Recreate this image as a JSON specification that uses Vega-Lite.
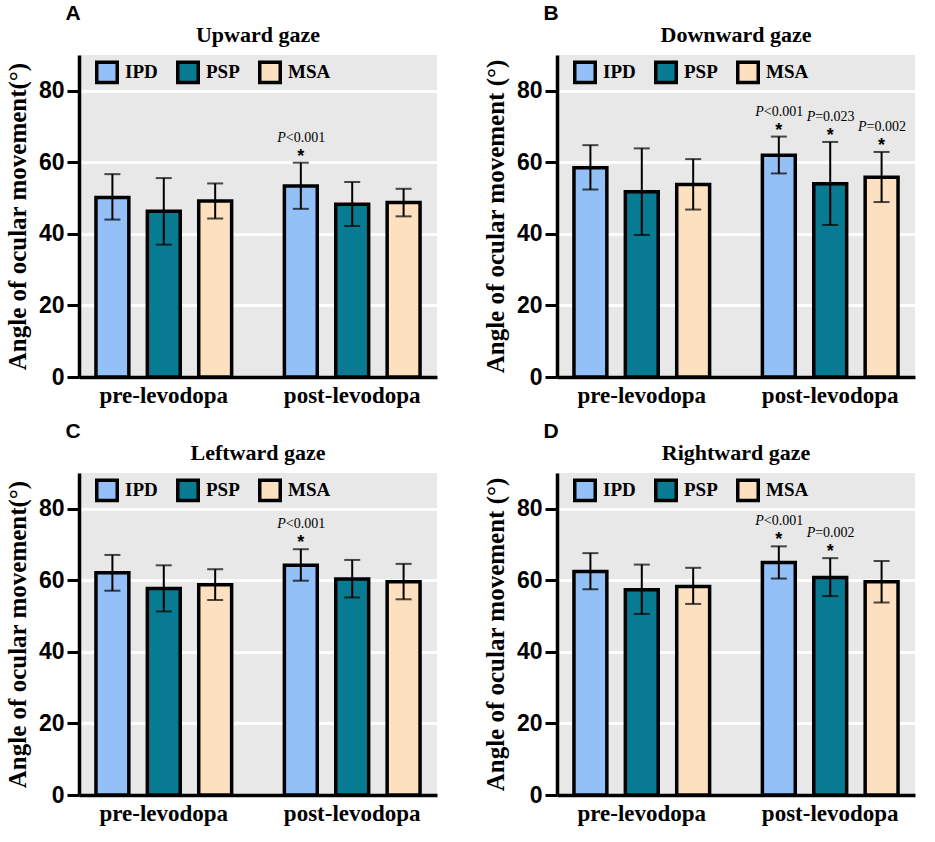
{
  "$schema": "https://vega.github.io/schema/vega-lite/v6.json",
  "padding": {"left": 5, "top": 3, "right": 3, "bottom": 3},
  "background": "white",
  "datasets": {
    "d": [
      {"panel": "A", "time": "pre-levodopa", "group": "IPD", "mean": 50.2, "lo": 44.0, "hi": 56.7, "ptext": ""},
      {"panel": "A", "time": "pre-levodopa", "group": "PSP", "mean": 46.3, "lo": 37.0, "hi": 55.6, "ptext": ""},
      {"panel": "A", "time": "pre-levodopa", "group": "MSA", "mean": 49.2, "lo": 44.3, "hi": 54.1, "ptext": ""},
      {"panel": "A", "time": "post-levodopa", "group": "IPD", "mean": 53.4, "lo": 47.0, "hi": 59.9, "ptext": "<0.001"},
      {"panel": "A", "time": "post-levodopa", "group": "PSP", "mean": 48.3, "lo": 42.2, "hi": 54.5, "ptext": ""},
      {"panel": "A", "time": "post-levodopa", "group": "MSA", "mean": 48.8, "lo": 44.9, "hi": 52.6, "ptext": ""},
      {"panel": "B", "time": "pre-levodopa", "group": "IPD", "mean": 58.5, "lo": 52.4, "hi": 64.8, "ptext": ""},
      {"panel": "B", "time": "pre-levodopa", "group": "PSP", "mean": 51.8, "lo": 39.7, "hi": 63.9, "ptext": ""},
      {"panel": "B", "time": "pre-levodopa", "group": "MSA", "mean": 53.8, "lo": 46.8, "hi": 60.9, "ptext": ""},
      {"panel": "B", "time": "post-levodopa", "group": "IPD", "mean": 62.0, "lo": 56.9, "hi": 67.2, "ptext": "<0.001"},
      {"panel": "B", "time": "post-levodopa", "group": "PSP", "mean": 54.0, "lo": 42.5, "hi": 65.7, "ptext": "=0.023"},
      {"panel": "B", "time": "post-levodopa", "group": "MSA", "mean": 55.8, "lo": 48.9, "hi": 62.9, "ptext": "=0.002"},
      {"panel": "C", "time": "pre-levodopa", "group": "IPD", "mean": 62.1, "lo": 57.1, "hi": 67.1, "ptext": ""},
      {"panel": "C", "time": "pre-levodopa", "group": "PSP", "mean": 57.7, "lo": 51.3, "hi": 64.2, "ptext": ""},
      {"panel": "C", "time": "pre-levodopa", "group": "MSA", "mean": 58.8, "lo": 54.5, "hi": 63.1, "ptext": ""},
      {"panel": "C", "time": "post-levodopa", "group": "IPD", "mean": 64.2, "lo": 59.9, "hi": 68.7, "ptext": "<0.001"},
      {"panel": "C", "time": "post-levodopa", "group": "PSP", "mean": 60.4, "lo": 55.2, "hi": 65.7, "ptext": ""},
      {"panel": "C", "time": "post-levodopa", "group": "MSA", "mean": 59.6, "lo": 54.7, "hi": 64.6, "ptext": ""},
      {"panel": "D", "time": "pre-levodopa", "group": "IPD", "mean": 62.5, "lo": 57.5, "hi": 67.6, "ptext": ""},
      {"panel": "D", "time": "pre-levodopa", "group": "PSP", "mean": 57.4, "lo": 50.6, "hi": 64.4, "ptext": ""},
      {"panel": "D", "time": "pre-levodopa", "group": "MSA", "mean": 58.3, "lo": 53.4, "hi": 63.5, "ptext": ""},
      {"panel": "D", "time": "post-levodopa", "group": "IPD", "mean": 65.0, "lo": 60.5, "hi": 69.5, "ptext": "<0.001"},
      {"panel": "D", "time": "post-levodopa", "group": "PSP", "mean": 60.8, "lo": 55.6, "hi": 66.2, "ptext": "=0.002"},
      {"panel": "D", "time": "post-levodopa", "group": "MSA", "mean": 59.6, "lo": 53.8, "hi": 65.4, "ptext": ""}
    ]
  },
  "config": {
    "view": {"fill": "#e8e8e8", "stroke": null},
    "axis": {"domainColor": "black", "domainWidth": 3.5, "tickColor": "black", "tickWidth": 3, "labelColor": "black", "titleColor": "black"},
    "axisY": {"tickSize": 12, "labelFont": "Liberation Sans", "labelFontSize": 23, "labelFontWeight": "bold", "labelPadding": 3, "titleFont": "Liberation Serif", "titleFontSize": 25, "titleFontWeight": "bold", "titlePadding": 8, "gridColor": "white", "gridWidth": 3, "gridOpacity": 1},
    "axisX": {"ticks": false, "labelFont": "Liberation Serif", "labelFontSize": 23, "labelFontWeight": "bold", "labelAngle": 0, "labelPadding": 7, "grid": false},
    "legend": {"orient": "none", "legendX": 16, "legendY": 5, "direction": "horizontal", "symbolType": "square", "symbolSize": 420, "symbolStrokeWidth": 3.5, "symbolStrokeColor": "black", "symbolOpacity": 1, "labelFont": "Liberation Serif", "labelFontSize": 19, "labelFontWeight": "bold", "labelColor": "black", "labelOffset": 6, "columnPadding": 12}
  },
  "resolve": {"scale": {"color": "independent"}},
  "spacing": 14,
  "vconcat": [
    {
      "spacing": 46,
      "resolve": {"scale": {"color": "independent"}},
      "hconcat": [
        {
          "title": {"text": "A", "anchor": "start", "font": "Liberation Sans", "fontSize": 21, "fontWeight": "bold", "color": "black", "dx": 60, "offset": 0},
          "resolve": {"scale": {"color": "independent"}},
          "vconcat": [{
            "width": 358, "height": 322,
            "title": {"text": "Upward gaze", "font": "Liberation Serif", "fontSize": 22, "fontWeight": "bold", "color": "black", "anchor": "middle", "offset": 8},
            "data": {"name": "d"},
            "transform": [{"filter": "datum.panel === 'A'"}],
            "encoding": {
              "x": {"field": "time", "type": "nominal", "sort": ["pre-levodopa", "post-levodopa"], "scale": {"paddingInner": 0.28, "paddingOuter": 0.09}, "axis": {"title": null, "ticks": false, "labelAngle": 0}},
              "xOffset": {"field": "group", "type": "nominal", "sort": ["IPD", "PSP", "MSA"], "scale": {"paddingInner": 0.36, "paddingOuter": 0}}
            },
            "layer": [
              {"mark": {"type": "bar", "stroke": "black", "strokeWidth": 3.5},
               "encoding": {
                 "y": {"field": "mean", "type": "quantitative", "scale": {"domain": [0, 90], "nice": false}, "axis": {"title": "Angle of ocular movement(°)", "values": [0, 20, 40, 60, 80]}},
                 "color": {"field": "group", "type": "nominal", "sort": ["IPD", "PSP", "MSA"], "scale": {"domain": ["IPD", "PSP", "MSA"], "range": ["#93c0f7", "#087a91", "#fde0c0"]}, "legend": {"title": null}}
               }},
              {"mark": {"type": "rule", "color": "black", "strokeWidth": 2}, "encoding": {"y": {"field": "lo", "type": "quantitative"}, "y2": {"field": "hi"}}},
              {"mark": {"type": "tick", "color": "black", "thickness": 2, "size": 16, "orient": "horizontal"}, "encoding": {"y": {"field": "lo", "type": "quantitative"}}},
              {"mark": {"type": "tick", "color": "black", "thickness": 2, "size": 16, "orient": "horizontal"}, "encoding": {"y": {"field": "hi", "type": "quantitative"}}},
              {"transform": [{"filter": "datum.ptext"}], "mark": {"type": "text", "font": "Liberation Serif", "fontSize": 14, "fontStyle": "italic", "align": "right", "baseline": "alphabetic", "dx": -15, "dy": -21, "color": "black"}, "encoding": {"y": {"field": "hi", "type": "quantitative"}, "text": {"value": "P"}}},
              {"transform": [{"filter": "datum.ptext"}], "mark": {"type": "text", "font": "Liberation Serif", "fontSize": 14, "align": "left", "baseline": "alphabetic", "dx": -15, "dy": -21, "color": "black"}, "encoding": {"y": {"field": "hi", "type": "quantitative"}, "text": {"field": "ptext"}}},
              {"transform": [{"filter": "datum.ptext"}], "mark": {"type": "text", "font": "Liberation Sans", "fontSize": 18, "fontWeight": "bold", "align": "center", "baseline": "alphabetic", "dy": -1, "color": "black"}, "encoding": {"y": {"field": "hi", "type": "quantitative"}, "text": {"value": "*"}}}
            ]
          }]
        },
        {
          "title": {"text": "B", "anchor": "start", "font": "Liberation Sans", "fontSize": 21, "fontWeight": "bold", "color": "black", "dx": 60, "offset": 0},
          "resolve": {"scale": {"color": "independent"}},
          "vconcat": [{
            "width": 358, "height": 322,
            "title": {"text": "Downward gaze", "font": "Liberation Serif", "fontSize": 22, "fontWeight": "bold", "color": "black", "anchor": "middle", "offset": 8},
            "data": {"name": "d"},
            "transform": [{"filter": "datum.panel === 'B'"}],
            "encoding": {
              "x": {"field": "time", "type": "nominal", "sort": ["pre-levodopa", "post-levodopa"], "scale": {"paddingInner": 0.28, "paddingOuter": 0.09}, "axis": {"title": null, "ticks": false, "labelAngle": 0}},
              "xOffset": {"field": "group", "type": "nominal", "sort": ["IPD", "PSP", "MSA"], "scale": {"paddingInner": 0.36, "paddingOuter": 0}}
            },
            "layer": [
              {"mark": {"type": "bar", "stroke": "black", "strokeWidth": 3.5},
               "encoding": {
                 "y": {"field": "mean", "type": "quantitative", "scale": {"domain": [0, 90], "nice": false}, "axis": {"title": "Angle of ocular movement (°)", "values": [0, 20, 40, 60, 80]}},
                 "color": {"field": "group", "type": "nominal", "sort": ["IPD", "PSP", "MSA"], "scale": {"domain": ["IPD", "PSP", "MSA"], "range": ["#93c0f7", "#087a91", "#fde0c0"]}, "legend": {"title": null}}
               }},
              {"mark": {"type": "rule", "color": "black", "strokeWidth": 2}, "encoding": {"y": {"field": "lo", "type": "quantitative"}, "y2": {"field": "hi"}}},
              {"mark": {"type": "tick", "color": "black", "thickness": 2, "size": 16, "orient": "horizontal"}, "encoding": {"y": {"field": "lo", "type": "quantitative"}}},
              {"mark": {"type": "tick", "color": "black", "thickness": 2, "size": 16, "orient": "horizontal"}, "encoding": {"y": {"field": "hi", "type": "quantitative"}}},
              {"transform": [{"filter": "datum.ptext"}], "mark": {"type": "text", "font": "Liberation Serif", "fontSize": 14, "fontStyle": "italic", "align": "right", "baseline": "alphabetic", "dx": -15, "dy": -21, "color": "black"}, "encoding": {"y": {"field": "hi", "type": "quantitative"}, "text": {"value": "P"}}},
              {"transform": [{"filter": "datum.ptext"}], "mark": {"type": "text", "font": "Liberation Serif", "fontSize": 14, "align": "left", "baseline": "alphabetic", "dx": -15, "dy": -21, "color": "black"}, "encoding": {"y": {"field": "hi", "type": "quantitative"}, "text": {"field": "ptext"}}},
              {"transform": [{"filter": "datum.ptext"}], "mark": {"type": "text", "font": "Liberation Sans", "fontSize": 18, "fontWeight": "bold", "align": "center", "baseline": "alphabetic", "dy": -1, "color": "black"}, "encoding": {"y": {"field": "hi", "type": "quantitative"}, "text": {"value": "*"}}}
            ]
          }]
        }
      ]
    },
    {
      "spacing": 46,
      "resolve": {"scale": {"color": "independent"}},
      "hconcat": [
        {
          "title": {"text": "C", "anchor": "start", "font": "Liberation Sans", "fontSize": 21, "fontWeight": "bold", "color": "black", "dx": 60, "offset": 0},
          "resolve": {"scale": {"color": "independent"}},
          "vconcat": [{
            "width": 358, "height": 322,
            "title": {"text": "Leftward gaze", "font": "Liberation Serif", "fontSize": 22, "fontWeight": "bold", "color": "black", "anchor": "middle", "offset": 8},
            "data": {"name": "d"},
            "transform": [{"filter": "datum.panel === 'C'"}],
            "encoding": {
              "x": {"field": "time", "type": "nominal", "sort": ["pre-levodopa", "post-levodopa"], "scale": {"paddingInner": 0.28, "paddingOuter": 0.09}, "axis": {"title": null, "ticks": false, "labelAngle": 0}},
              "xOffset": {"field": "group", "type": "nominal", "sort": ["IPD", "PSP", "MSA"], "scale": {"paddingInner": 0.36, "paddingOuter": 0}}
            },
            "layer": [
              {"mark": {"type": "bar", "stroke": "black", "strokeWidth": 3.5},
               "encoding": {
                 "y": {"field": "mean", "type": "quantitative", "scale": {"domain": [0, 90], "nice": false}, "axis": {"title": "Angle of ocular movement(°)", "values": [0, 20, 40, 60, 80]}},
                 "color": {"field": "group", "type": "nominal", "sort": ["IPD", "PSP", "MSA"], "scale": {"domain": ["IPD", "PSP", "MSA"], "range": ["#93c0f7", "#087a91", "#fde0c0"]}, "legend": {"title": null}}
               }},
              {"mark": {"type": "rule", "color": "black", "strokeWidth": 2}, "encoding": {"y": {"field": "lo", "type": "quantitative"}, "y2": {"field": "hi"}}},
              {"mark": {"type": "tick", "color": "black", "thickness": 2, "size": 16, "orient": "horizontal"}, "encoding": {"y": {"field": "lo", "type": "quantitative"}}},
              {"mark": {"type": "tick", "color": "black", "thickness": 2, "size": 16, "orient": "horizontal"}, "encoding": {"y": {"field": "hi", "type": "quantitative"}}},
              {"transform": [{"filter": "datum.ptext"}], "mark": {"type": "text", "font": "Liberation Serif", "fontSize": 14, "fontStyle": "italic", "align": "right", "baseline": "alphabetic", "dx": -15, "dy": -21, "color": "black"}, "encoding": {"y": {"field": "hi", "type": "quantitative"}, "text": {"value": "P"}}},
              {"transform": [{"filter": "datum.ptext"}], "mark": {"type": "text", "font": "Liberation Serif", "fontSize": 14, "align": "left", "baseline": "alphabetic", "dx": -15, "dy": -21, "color": "black"}, "encoding": {"y": {"field": "hi", "type": "quantitative"}, "text": {"field": "ptext"}}},
              {"transform": [{"filter": "datum.ptext"}], "mark": {"type": "text", "font": "Liberation Sans", "fontSize": 18, "fontWeight": "bold", "align": "center", "baseline": "alphabetic", "dy": -1, "color": "black"}, "encoding": {"y": {"field": "hi", "type": "quantitative"}, "text": {"value": "*"}}}
            ]
          }]
        },
        {
          "title": {"text": "D", "anchor": "start", "font": "Liberation Sans", "fontSize": 21, "fontWeight": "bold", "color": "black", "dx": 60, "offset": 0},
          "resolve": {"scale": {"color": "independent"}},
          "vconcat": [{
            "width": 358, "height": 322,
            "title": {"text": "Rightward gaze", "font": "Liberation Serif", "fontSize": 22, "fontWeight": "bold", "color": "black", "anchor": "middle", "offset": 8},
            "data": {"name": "d"},
            "transform": [{"filter": "datum.panel === 'D'"}],
            "encoding": {
              "x": {"field": "time", "type": "nominal", "sort": ["pre-levodopa", "post-levodopa"], "scale": {"paddingInner": 0.28, "paddingOuter": 0.09}, "axis": {"title": null, "ticks": false, "labelAngle": 0}},
              "xOffset": {"field": "group", "type": "nominal", "sort": ["IPD", "PSP", "MSA"], "scale": {"paddingInner": 0.36, "paddingOuter": 0}}
            },
            "layer": [
              {"mark": {"type": "bar", "stroke": "black", "strokeWidth": 3.5},
               "encoding": {
                 "y": {"field": "mean", "type": "quantitative", "scale": {"domain": [0, 90], "nice": false}, "axis": {"title": "Angle of ocular movement (°)", "values": [0, 20, 40, 60, 80]}},
                 "color": {"field": "group", "type": "nominal", "sort": ["IPD", "PSP", "MSA"], "scale": {"domain": ["IPD", "PSP", "MSA"], "range": ["#93c0f7", "#087a91", "#fde0c0"]}, "legend": {"title": null}}
               }},
              {"mark": {"type": "rule", "color": "black", "strokeWidth": 2}, "encoding": {"y": {"field": "lo", "type": "quantitative"}, "y2": {"field": "hi"}}},
              {"mark": {"type": "tick", "color": "black", "thickness": 2, "size": 16, "orient": "horizontal"}, "encoding": {"y": {"field": "lo", "type": "quantitative"}}},
              {"mark": {"type": "tick", "color": "black", "thickness": 2, "size": 16, "orient": "horizontal"}, "encoding": {"y": {"field": "hi", "type": "quantitative"}}},
              {"transform": [{"filter": "datum.ptext"}], "mark": {"type": "text", "font": "Liberation Serif", "fontSize": 14, "fontStyle": "italic", "align": "right", "baseline": "alphabetic", "dx": -15, "dy": -21, "color": "black"}, "encoding": {"y": {"field": "hi", "type": "quantitative"}, "text": {"value": "P"}}},
              {"transform": [{"filter": "datum.ptext"}], "mark": {"type": "text", "font": "Liberation Serif", "fontSize": 14, "align": "left", "baseline": "alphabetic", "dx": -15, "dy": -21, "color": "black"}, "encoding": {"y": {"field": "hi", "type": "quantitative"}, "text": {"field": "ptext"}}},
              {"transform": [{"filter": "datum.ptext"}], "mark": {"type": "text", "font": "Liberation Sans", "fontSize": 18, "fontWeight": "bold", "align": "center", "baseline": "alphabetic", "dy": -1, "color": "black"}, "encoding": {"y": {"field": "hi", "type": "quantitative"}, "text": {"value": "*"}}}
            ]
          }]
        }
      ]
    }
  ]
}
